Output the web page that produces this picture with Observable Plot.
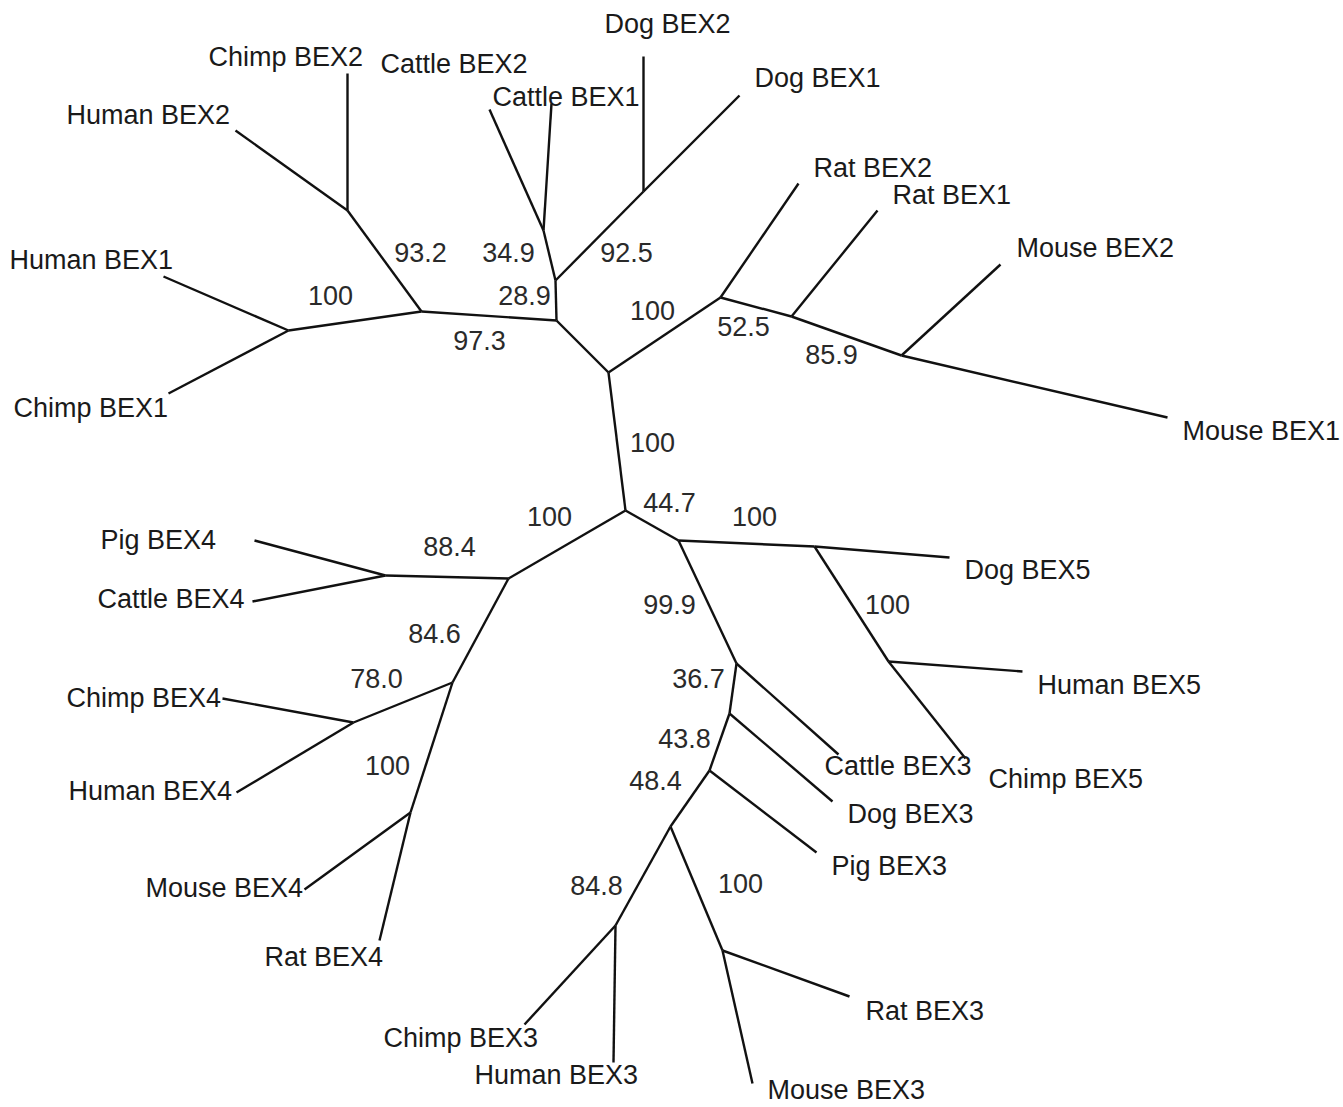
<!DOCTYPE html>
<html>
<head>
<meta charset="utf-8">
<script src="https://cdn.jsdelivr.net/npm/d3@7"></script>
<script src="https://cdn.jsdelivr.net/npm/@observablehq/plot@0.6"></script>
<style>
  html, body { margin: 0; padding: 0; background: #fff; }
  #chart svg { display: block; }
</style>
</head>
<body>
<div id="chart"></div>
<script>
// Internal nodes of the unrooted tree (layout coordinates)
const internalNodes = [
  ["n0", 608, 372], ["n1", 625, 510],
  ["upA", 556, 320], ["prim", 421, 311], ["prim1", 288, 330], ["prim2", 347, 210],
  ["upB", 555, 280], ["cat12", 543, 230], ["dog12", 643, 191],
  ["rod", 720, 297], ["rod2", 791, 316], ["mus12", 901, 355],
  ["b4", 508, 578], ["pc4", 385, 575], ["b4a", 452, 682], ["prim4", 353, 722], ["rod4", 410, 812],
  ["c", 678, 540], ["b5", 814, 546], ["hc5", 888, 661],
  ["d", 736, 663], ["e", 729, 713], ["f", 709, 770], ["g", 670, 826],
  ["hc3", 615, 925], ["rm3", 722, 950]
];

// Leaves: name, branch tip, label left/middle
const leafNames = [
  "Human BEX1", "Chimp BEX1", "Human BEX2", "Chimp BEX2", "Cattle BEX2", "Cattle BEX1",
  "Dog BEX2", "Dog BEX1", "Rat BEX2", "Rat BEX1", "Mouse BEX2", "Mouse BEX1",
  "Pig BEX4", "Cattle BEX4", "Chimp BEX4", "Human BEX4", "Mouse BEX4", "Rat BEX4",
  "Dog BEX5", "Human BEX5", "Chimp BEX5", "Cattle BEX3", "Dog BEX3", "Pig BEX3",
  "Chimp BEX3", "Human BEX3", "Rat BEX3", "Mouse BEX3"
];
const leafTip = [
  [163, 276], [168, 393], [235, 130], [347, 73], [489, 109], [551, 103],
  [643, 56], [739, 95], [798, 183], [877, 210], [1000, 264], [1167, 417],
  [254, 540], [252, 601], [222, 698], [236, 792], [304, 889], [379, 940],
  [949, 557], [1022, 671], [965, 758], [838, 754], [832, 801], [816, 852],
  [524, 1024], [613, 1062], [849, 996], [752, 1083]
];
const leafLabelPos = [
  [9, 260], [13, 408], [66, 115], [208, 57], [380, 64], [492, 97],
  [604, 24], [754, 78], [813, 168], [892, 195], [1016, 248], [1182, 431],
  [100, 540], [97, 599], [66, 698], [68, 791], [145, 888], [264, 957],
  [964, 570], [1037, 685], [988, 779], [824, 766], [847, 814], [831, 866],
  [383, 1038], [474, 1075], [865, 1011], [767, 1090]
];

// Branches: [from, to]
const branches = [
  ["n0", "n1"],
  ["n0", "upA"], ["upA", "prim"], ["prim", "prim1"], ["prim1", "Human BEX1"], ["prim1", "Chimp BEX1"],
  ["prim", "prim2"], ["prim2", "Human BEX2"], ["prim2", "Chimp BEX2"],
  ["upA", "upB"], ["upB", "cat12"], ["cat12", "Cattle BEX2"], ["cat12", "Cattle BEX1"],
  ["upB", "dog12"], ["dog12", "Dog BEX2"], ["dog12", "Dog BEX1"],
  ["n0", "rod"], ["rod", "Rat BEX2"], ["rod", "rod2"], ["rod2", "Rat BEX1"], ["rod2", "mus12"],
  ["mus12", "Mouse BEX2"], ["mus12", "Mouse BEX1"],
  ["n1", "b4"], ["b4", "pc4"], ["pc4", "Pig BEX4"], ["pc4", "Cattle BEX4"],
  ["b4", "b4a"], ["b4a", "prim4"], ["prim4", "Chimp BEX4"], ["prim4", "Human BEX4"],
  ["b4a", "rod4"], ["rod4", "Mouse BEX4"], ["rod4", "Rat BEX4"],
  ["n1", "c"], ["c", "b5"], ["b5", "Dog BEX5"], ["b5", "hc5"], ["hc5", "Human BEX5"], ["hc5", "Chimp BEX5"],
  ["c", "d"], ["d", "Cattle BEX3"], ["d", "e"], ["e", "Dog BEX3"], ["e", "f"], ["f", "Pig BEX3"],
  ["f", "g"], ["g", "hc3"], ["hc3", "Chimp BEX3"], ["hc3", "Human BEX3"],
  ["g", "rm3"], ["rm3", "Rat BEX3"], ["rm3", "Mouse BEX3"]
];

// Bootstrap support values with label positions
const bootValues = ["93.2", "100", "97.3", "34.9", "28.9", "92.5", "100", "52.5", "85.9",
  "100", "44.7", "100", "100", "88.4", "100", "99.9", "84.6", "78.0", "36.7", "43.8",
  "100", "48.4", "84.8", "100"];
const bootPos = [[420, 253], [330, 296], [479, 341], [508, 253], [524, 296], [626, 253], [652, 311], [743, 327], [831, 355],
  [652, 443], [669, 503], [549, 517], [754, 517], [449, 547], [887, 605], [669, 605], [434, 634], [376, 679], [698, 679], [684, 739],
  [387, 766], [655, 781], [596, 886], [740, 884]];

// Build tables
const pos = new Map();
internalNodes.forEach(([id, x, y]) => pos.set(id, {x, y}));
leafNames.forEach((n, i) => pos.set(n, {x: leafTip[i][0], y: leafTip[i][1]}));
const edgeData = branches.map(([a, b]) => ({x1: pos.get(a).x, y1: pos.get(a).y, x2: pos.get(b).x, y2: pos.get(b).y}));
const leafData = leafNames.map((n, i) => ({name: n, x: leafLabelPos[i][0], y: leafLabelPos[i][1]}));
const bootData = bootValues.map((v, i) => ({v, x: bootPos[i][0], y: bootPos[i][1]}));

const W = 1343, H = 1107;
const font = "'Liberation Sans', Arial, Helvetica, sans-serif";

const chart = Plot.plot({
  width: W,
  height: H,
  margin: 0,
  x: {domain: [0, W], range: [0, W], axis: null},
  y: {domain: [0, H], range: [0, H], axis: null},
  style: {fontFamily: font, background: "#fff"},
  marks: [
    Plot.link(edgeData, {x1: "x1", y1: "y1", x2: "x2", y2: "y2", stroke: "#111", strokeWidth: 2.4, strokeLinecap: "butt"}),
    Plot.text(leafData, {x: "x", y: "y", text: "name", textAnchor: "start", fontSize: 27, fill: "#1a1a1a", fontFamily: font}),
    Plot.text(bootData, {x: "x", y: "y", text: "v", textAnchor: "middle", fontSize: 27, fill: "#2a2a2a", fontFamily: font})
  ]
});
document.getElementById("chart").appendChild(chart);
</script>
</body>
</html>
